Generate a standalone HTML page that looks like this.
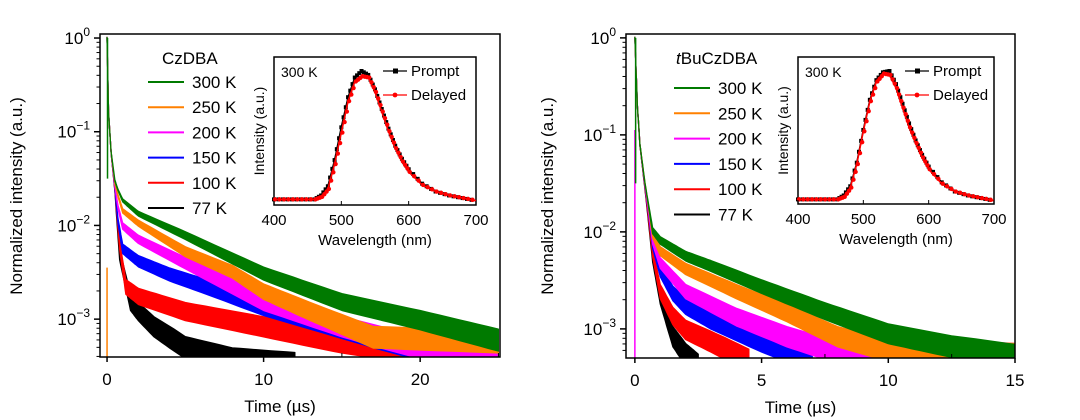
<!DOCTYPE html>
<html><head><meta charset="utf-8">
<style>
html,body{margin:0;padding:0;background:#fff;}
svg{display:block;font-family:"Liberation Sans",Arial,sans-serif;}
</style></head>
<body>
<svg id="fig" width="1080" height="420" viewBox="0 0 1080 420" xmlns="http://www.w3.org/2000/svg"></svg>
<script>
// ---- data: decay curves, log10(intensity) at times (µs) ----
const tempLabels = ["300 K","250 K","200 K","150 K","100 K","77 K"];
const tempColors = ["#007a00","#ff8000","#ff00ff","#0000ff","#ff0000","#000000"];

const leftTimes = [
  [0,0.1,0.25,0.5,0.7,1,2,5,10,15,20,25],
  [0,0.1,0.25,0.5,0.7,1,2,5,8,10,13,17,25],
  [0,0.1,0.25,0.5,0.7,1,2,5,10,15,20,25],
  [0,0.1,0.25,0.5,0.7,1,2,4,6,10,20,25],
  [0,0.1,0.25,0.5,0.8,1.2,2,5,10,15,20,25],
  [0,0.1,0.25,0.5,0.8,1.5,2,3,5,8,12]
];
const leftLogI = [
  [0,-0.8,-1.2,-1.52,-1.62,-1.73,-1.87,-2.1,-2.5,-2.8,-2.99,-3.2],
  [0,-0.8,-1.2,-1.55,-1.68,-1.84,-1.97,-2.27,-2.48,-2.69,-2.9,-3.17,-3.22],
  [0,-0.8,-1.2,-1.58,-1.8,-2.0,-2.14,-2.39,-2.8,-3.06,-3.28,-3.3],
  [0,-0.8,-1.2,-1.6,-1.95,-2.24,-2.37,-2.51,-2.62,-2.85,-3.3,-3.22],
  [0,-0.8,-1.2,-1.62,-2.2,-2.64,-2.74,-2.9,-3.06,-3.22,-3.35,-3.42],
  [0,-0.8,-1.2,-1.63,-2.3,-2.8,-2.9,-3.06,-3.28,-3.4,-3.45]
];
const rightTimes = [
  [0,0.1,0.2,0.4,0.7,1,2,3,5,7.5,10,12.5,15],
  [0,0.1,0.2,0.4,0.7,1,2,4,6,8,10,15],
  [0,0.1,0.2,0.4,0.7,1,2,4,6,8,10,15],
  [0,0.1,0.2,0.4,0.7,1,1.5,2,3,5,7],
  [0,0.1,0.2,0.4,0.7,1,1.5,2,3,4.5],
  [0,0.1,0.2,0.4,0.7,1,1.5,2,2.5]
];
const rightLogI = [
  [0,-0.7,-1.1,-1.5,-1.98,-2.08,-2.24,-2.34,-2.55,-2.8,-3.03,-3.16,-3.25],
  [0,-0.7,-1.1,-1.5,-2.02,-2.19,-2.37,-2.6,-2.82,-3.06,-3.2,-3.24],
  [0,-0.7,-1.1,-1.52,-2.08,-2.31,-2.6,-2.86,-3.06,-3.22,-3.18,-3.24],
  [0,-0.7,-1.1,-1.53,-2.12,-2.39,-2.62,-2.75,-2.89,-3.11,-3.3],
  [0,-0.7,-1.1,-1.55,-2.2,-2.6,-2.85,-2.99,-3.11,-3.3],
  [0,-0.7,-1.1,-1.56,-2.25,-2.65,-3.06,-3.24,-3.35]
];
// inset spectra (wavelength nm, normalized intensity)
const specWl = [400,420,440,460,470,480,490,500,510,520,530,540,550,560,570,580,590,600,620,640,660,680,700];
const specPromptL = [0.02,0.02,0.02,0.02,0.05,0.12,0.32,0.57,0.8,0.95,1.0,0.97,0.86,0.71,0.56,0.43,0.33,0.25,0.14,0.08,0.05,0.03,0.01];
const specDelayedL = [0.02,0.02,0.02,0.02,0.04,0.1,0.29,0.53,0.77,0.92,0.96,0.95,0.84,0.69,0.54,0.41,0.31,0.23,0.13,0.08,0.05,0.03,0.01];
const specPromptR = [0.02,0.02,0.02,0.02,0.05,0.12,0.3,0.55,0.78,0.93,0.99,1.0,0.9,0.75,0.6,0.47,0.36,0.27,0.15,0.08,0.05,0.03,0.01];
const specDelayedR = [0.02,0.02,0.02,0.02,0.04,0.11,0.29,0.54,0.77,0.92,0.98,0.97,0.87,0.72,0.57,0.45,0.34,0.25,0.14,0.08,0.05,0.03,0.01];
const yTickExp = [0,-1,-2,-3];
const leftXTicks = [0,10,20];
const rightXTicks = [0,5,10,15];
const insetXTicks = [400,500,600,700];

const NS="http://www.w3.org/2000/svg";
const svg=document.getElementById('fig');
function mk(tag,attrs,parent){const e=document.createElementNS(NS,tag);for(const k in attrs)e.setAttribute(k,attrs[k]);(parent||svg).appendChild(e);return e;}

// noise band half-width (px) as a function of log intensity (visual style only)
function halfW(l){return Math.min(11,Math.max(0.8,(-l-1.5)*6.5));}

function panel(cfg){
  const g=mk('g',{});
  
  
  const {x0,x1,y0,y1,tmin,tmax,lmin,lmax}=cfg;
  const sx=t=>x0+(t-tmin)/(tmax-tmin)*(x1-x0);
  const sy=l=>y1-(l-lmin)/(lmax-lmin)*(y1-y0);
  const clip='clip-'+cfg.name;
  const cp=mk('clipPath',{id:clip},g);mk('rect',{x:x0,y:y0,width:x1-x0,height:y1-y0},cp);
  const cg=mk('g',{'clip-path':'url(#'+clip+')'},g);
  for(let i=cfg.times.length-1;i>=0;i--){
    const ts=cfg.times[i], ls=cfg.logI[i];
    const up=[],dn=[];
    for(let j=0;j<ts.length-1;j++){
      const n=8;
      for(let k=0;k<n;k++){
        const f=k/n,t=ts[j]+(ts[j+1]-ts[j])*f,l=ls[j]+(ls[j+1]-ls[j])*f;
        const x=sx(t),y=sy(l),h=halfW(l);
        up.push(x.toFixed(1)+','+(y-h*0.8).toFixed(1));dn.push(x.toFixed(1)+','+(y+h*1.2).toFixed(1));
      }
    }
    const lt=ts[ts.length-1],ll=ls[ls.length-1],h=halfW(ll);
    up.push(sx(lt).toFixed(1)+','+(sy(ll)-h*0.8).toFixed(1));dn.push(sx(lt).toFixed(1)+','+(sy(ll)+h*1.2).toFixed(1));
    const p=mk('polygon',{points:up.concat(dn.reverse()).join(' '),fill:tempColors[i],stroke:tempColors[i],'stroke-width':1.2,'stroke-linejoin':'round'},cg);
    
    
  }
  mk('line',{x1:sx(0),x2:sx(0),y1:sy(cfg.vlineTop),y2:y1,stroke:cfg.vlineColor,'stroke-width':1.5},cg);
  mk('line',{x1:sx(0.03),x2:sx(0.03),y1:sy(0),y2:sy(-1.5),stroke:'#007a00','stroke-width':1.5},cg);
  const fr=mk('rect',{x:x0,y:y0,width:x1-x0,height:y1-y0,fill:'none',stroke:'#000','stroke-width':1.5},g);
  
  
  yTickExp.forEach(e=>{
    const y=sy(e);
    mk('line',{x1:x0-6,x2:x0,y1:y,y2:y,stroke:'#000','stroke-width':1.5},g);
    const t=mk('text',{x:x0-10,y:y+6,'text-anchor':'end','font-size':17,fill:'#000'},g);
    
    
    t.textContent='10';
    const s=mk('tspan',{dy:-8,'font-size':12},t);s.textContent=(e<0?'\u2212'+(-e):''+e);
    for(let m=2;m<=9;m++){const l=e-1+Math.log10(m);if(l>=lmin){const yy=sy(l);mk('line',{x1:x0-3.5,x2:x0,y1:yy,y2:yy,stroke:'#000','stroke-width':1},g);}}
  });
  cfg.xTicks.forEach(v=>{
    const x=sx(v);
    mk('line',{x1:x,x2:x,y1:y1,y2:y1+5,stroke:'#000','stroke-width':1.5},g);
    const t=mk('text',{x:x,y:y1+28,'text-anchor':'middle','font-size':17,fill:'#000'},g);
    
    
    t.textContent=v;
  });
  cfg.xMinor.forEach(v=>{const x=sx(v);mk('line',{x1:x,x2:x,y1:y1,y2:y1-4,stroke:'#000','stroke-width':1},g);});
  const xt=mk('text',{x:(x0+x1)/2-20,y:y1+55,'text-anchor':'middle','font-size':17},g);
  
  
  xt.textContent='Time (\u00b5s)';
  const yt=mk('text',{x:cfg.ytx,y:196,'text-anchor':'middle','font-size':17,transform:'rotate(-90 '+cfg.ytx+' 196)'},g);
  
  
  yt.textContent='Normalized intensity (a.u.)';
  const lg=mk('g',{},g);
  
  
  const tt=mk('text',{x:cfg.legTitleX,y:64,'font-size':17},lg);
  
  
  if(cfg.italicT){const a=mk('tspan',{'font-style':'italic'},tt);a.textContent='t';const b=mk('tspan',{},tt);b.textContent='BuCzDBA';}
  else tt.textContent=cfg.title;
  tempLabels.forEach((lab,i)=>{
    const y=cfg.legY0+i*cfg.legDy;
    const e=mk('g',{},lg);
    
    
    mk('line',{x1:cfg.legX,x2:cfg.legX+36,y1:y,y2:y,stroke:tempColors[i],'stroke-width':2},e);
    const t=mk('text',{x:cfg.legX+44,y:y+6,'font-size':17},e);t.textContent=lab;
  });
  const ig=mk('g',{},g);
  
  
  const {ix0,ix1,iy0,iy1}=cfg;
  const wx=w=>ix0+(w-400)/300*(ix1-ix0);
  const iy=v=>202-v*131;
  mk('rect',{x:ix0,y:iy0,width:ix1-ix0,height:iy1-iy0,fill:'#fff',stroke:'#000','stroke-width':1.5},ig);
  [[cfg.prompt,'#000','rect'],[cfg.delayed,'#ff0000','circle']].forEach(([arr,col,shape],k)=>{
    const pts=specWl.map((w,j)=>wx(w).toFixed(1)+','+iy(arr[j]).toFixed(1)).join(' ');
    const pl=mk('polyline',{points:pts,fill:'none',stroke:col,'stroke-width':1.6},ig);
    
    
    for(let j=0;j<specWl.length-1;j++){
      for(let q=0;q<3;q++){
        const f=q/3,w=specWl[j]+(specWl[j+1]-specWl[j])*f,v=arr[j]+(arr[j+1]-arr[j])*f;
        if(shape==='rect')mk('rect',{x:wx(w)-2,y:iy(v)-2,width:4,height:4,fill:col},ig);
        else mk('circle',{cx:wx(w)+1,cy:iy(v),r:2.2,fill:col},ig);
      }
    }
  });
  insetXTicks.forEach(v=>{
    const x=wx(v);
    mk('line',{x1:x,x2:x,y1:iy1,y2:iy1-4,stroke:'#000','stroke-width':1},ig);
    const t=mk('text',{x:x,y:iy1+20,'text-anchor':'middle','font-size':15},ig);
    
    
    t.textContent=v;
  });
  const wt=mk('text',{x:(ix0+ix1)/2,y:iy1+40,'text-anchor':'middle','font-size':15},ig);
  
  
  wt.textContent='Wavelength (nm)';
  const yx=ix0-10;
  const it=mk('text',{x:yx,y:(iy0+iy1)/2,'text-anchor':'middle','font-size':14,transform:'rotate(-90 '+yx+' '+(iy0+iy1)/2+')'},ig);
  
  
  it.textContent='Intensity (a.u.)';
  const kt=mk('text',{x:ix0+7,y:iy0+20,'font-size':14},ig);kt.textContent='300 K';
  [['Prompt','#000',0],['Delayed','#ff0000',1]].forEach(([lab,col,k])=>{
    const y=iy0+14+k*24, lx=cfg.insetLegX;
    const e=mk('g',{},ig);
    
    
    mk('line',{x1:lx,x2:lx+24,y1:y,y2:y,stroke:col,'stroke-width':1.2},e);
    if(k)mk('circle',{cx:lx+12,cy:y,r:2.4,fill:col},e);else mk('rect',{x:lx+10,y:y-2.5,width:5,height:5,fill:col},e);
    const t=mk('text',{x:lx+28,y:y+5,'font-size':15},e);t.textContent=lab;
  });
}

panel({name:'left-panel',x0:100,x1:500,y0:34,y1:357,tmin:-0.45,tmax:25.1,lmin:-3.404,lmax:0.043,
  times:leftTimes,logI:leftLogI,xTicks:leftXTicks,xMinor:[5,15,25],vlineTop:-2.45,vlineColor:'#ff8000',
  ytx:22,title:'CzDBA',legTitleX:162,legX:148,legY0:82,legDy:25.2,
  ix0:274,ix1:476,iy0:57,iy1:205,prompt:specPromptL,delayed:specDelayedL,insetLegX:383});
panel({name:'right-panel',x0:626,x1:1015,y0:34,y1:358,tmin:-0.35,tmax:15,lmin:-3.3,lmax:0.04,
  times:rightTimes,logI:rightLogI,xTicks:rightXTicks,xMinor:[2.5,7.5,12.5],vlineTop:-0.95,vlineColor:'#ff00ff',
  ytx:553,title:'tBuCzDBA',italicT:true,legTitleX:676,legX:674,legY0:88,legDy:25.3,
  ix0:798,ix1:994,iy0:57,iy1:204,prompt:specPromptR,delayed:specDelayedR,insetLegX:905});
</script>
</body></html>
